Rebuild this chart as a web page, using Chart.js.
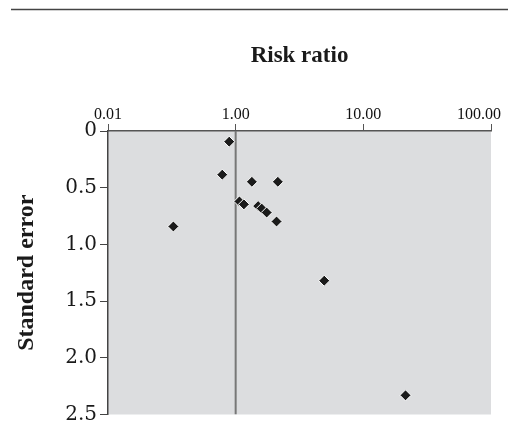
<!DOCTYPE html>
<html>
<head>
<meta charset="utf-8">
<script src="https://cdn.jsdelivr.net/npm/chart.js@4.4.1/dist/chart.umd.min.js"></script>
<style>
  html, body { margin: 0; padding: 0; background: #fff; }
</style>
</head>
<body>
<canvas id="funnel" width="508" height="421"></canvas>
<script>
// study estimates
const riskRatio     = [0.89, 0.785, 1.34, 2.14, 1.07, 1.16, 1.50, 1.60, 1.75, 2.09, 0.325, 4.94, 21.4]
const standardError = [0.094, 0.385, 0.448, 0.448, 0.621, 0.647, 0.662, 0.684, 0.719, 0.798, 0.842, 1.320, 2.331]

const xTickValues = [0.1, 1, 10, 100]
const xTickLabels = ['0.01', '1.00', '10.00', '100.00']
const yTickValues = [0, 0.5, 1.0, 1.5, 2.0, 2.5]

const nullEffect = 1
const points = riskRatio.map((rr, i) => ({ x: rr, y: standardError[i] }))
const nullLine = [{ x: nullEffect, y: yTickValues[0] }, { x: nullEffect, y: yTickValues[yTickValues.length - 1] }]

const plotBackground = {
    id: 'plotBackground',
    beforeDraw(chart) {
        const { ctx, chartArea } = chart
        ctx.save()
        ctx.fillStyle = '#dcdddf'
        ctx.fillRect(chartArea.left, chartArea.top, chartArea.right - chartArea.left, chartArea.bottom - chartArea.top)
        ctx.restore()
    },
    afterDraw(chart) {
        // rule across the top of the figure
        const ctx = chart.ctx
        ctx.save()
        ctx.strokeStyle = '#444'
        ctx.lineWidth = 1.5
        ctx.beginPath()
        ctx.moveTo(11, 9.5)
        ctx.lineTo(508, 9.5)
        ctx.stroke()
        ctx.restore()
    }
}

const ctx = document.getElementById('funnel').getContext('2d')

new Chart(ctx, {
    type: 'scatter',
    data: {
        datasets: [{
            label: 'Studies',
            data: points,
            pointStyle: 'rectRot',
            pointRadius: 5.5,
            backgroundColor: '#1b1b1b',
            borderColor: '#ffffff',
            borderWidth: 1,
            order: 1
        }, {
            label: 'Null',
            data: nullLine,
            showLine: true,
            pointRadius: 0,
            borderColor: '#777',
            borderWidth: 2,
            order: 2
        }]
    },
    options: {
        responsive: false,
        animation: false,
        layout: { padding: { top: 0, left: 0, right: 17, bottom: 4 } },
        plugins: {
            legend: { display: false },
            tooltip: { enabled: false }
        },
        scales: {
            x: {
                type: 'logarithmic',
                position: 'top',
                min: xTickValues[0],
                max: xTickValues[xTickValues.length - 1],
                afterBuildTicks: scale => { scale.ticks = xTickValues.map(v => ({ value: v })) },
                afterFit: scale => { scale.height = 131; scale.paddingLeft = 0; scale.paddingRight = 0 },
                ticks: {
                    autoSkip: false,
                    maxRotation: 0,
                    padding: 0,
                    color: '#111',
                    font: { family: 'Liberation Serif', size: 16 },
                    callback: (v, i) => i === xTickLabels.length - 1 ? xTickLabels[i] + '\u2002\u2002\u2002' : xTickLabels[i]
                },
                grid: { drawOnChartArea: false, drawTicks: true, tickLength: 7, color: '#555', lineWidth: 1 },
                border: { display: true, color: '#555', width: 1.5 },
                title: {
                    display: true,
                    text: 'Risk ratio',
                    color: '#1a1a1a',
                    font: { family: 'Liberation Serif', size: 23, weight: 'bold' },
                    padding: { top: 42, bottom: 0 }
                }
            },
            y: {
                type: 'linear',
                reverse: true,
                min: yTickValues[0],
                max: yTickValues[yTickValues.length - 1],
                afterBuildTicks: scale => { scale.ticks = yTickValues.map(v => ({ value: v })) },
                afterFit: scale => { scale.width = 108; scale.paddingTop = 0; scale.paddingBottom = 0 },
                ticks: {
                    padding: 3,
                    color: '#1a1a1a',
                    font: { family: 'DejaVu Serif', size: 20 },
                    callback: v => v === 0 ? '0' : v.toFixed(1)
                },
                grid: { drawOnChartArea: false, drawTicks: true, tickLength: 8, color: '#444', lineWidth: 1 },
                border: { display: true, color: '#444', width: 1.5 },
                title: {
                    display: true,
                    text: 'Standard error',
                    color: '#1a1a1a',
                    font: { family: 'Liberation Serif', size: 24, weight: 'bold' },
                    padding: { top: 12, bottom: 0 }
                }
            }
        }
    },
    plugins: [plotBackground]
})
</script>
</body>
</html>
